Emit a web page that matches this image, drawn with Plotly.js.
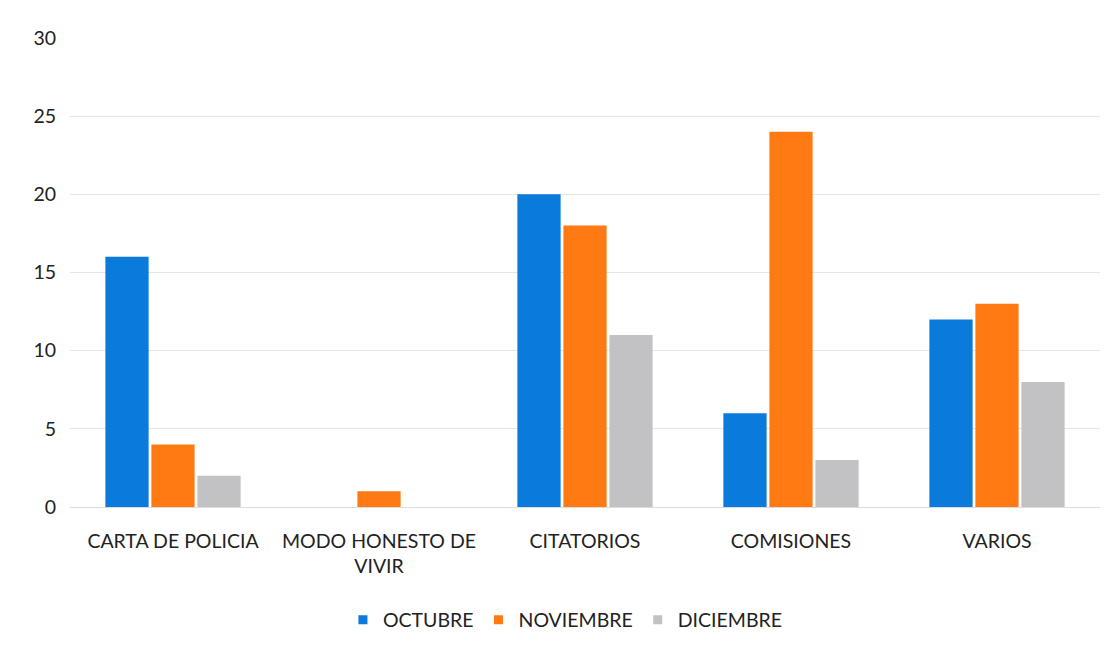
<!DOCTYPE html>
<html><head><meta charset="utf-8">
<script src="https://cdn.plot.ly/plotly-3.0.1.min.js"></script>
<style>html,body{margin:0;padding:0;background:#fff}</style>
</head><body>
<div id="chart" style="width:1118px;height:656px"></div>
<script>
const categories = ["CARTA DE POLICIA", "MODO HONESTO DE<br>VIVIR", "CITATORIOS", "COMISIONES", "VARIOS"];
const octubre = [16, 0, 20, 6, 12];
const noviembre = [4, 1, 18, 24, 13];
const diciembre = [2, 0, 11, 3, 8];
const yTicks = [0, 5, 10, 15, 20, 25, 30];

const font = "Lato, 'Open Sans', sans-serif";
const series = [
  {name: "OCTUBRE", y: octubre, color: "#0A7ADB"},
  {name: "NOVIEMBRE", y: noviembre, color: "#FF7A12"},
  {name: "DICIEMBRE", y: diciembre, color: "#C2C2C4"}
];
const bars = series.map(s => ({type: "bar", x: categories, y: s.y, name: s.name,
  marker: {color: s.color}, showlegend: false}));
const legendItems = series.map(s => ({type: "scatter", mode: "markers", x: [null], y: [null],
  name: s.name, marker: {color: s.color, symbol: "square", size: 9}}));

Plotly.newPlot("chart", bars.concat(legendItems), {
  width: 1118, height: 656,
  margin: {l: 70, r: 18, t: 38, b: 149},
  paper_bgcolor: "#fff", plot_bgcolor: "#fff",
  barmode: "group", bargap: 0.33, bargroupgap: 0.06,
  font: {family: font, size: 19, color: "#222"},
  xaxis: {showgrid: false, zeroline: false, showline: false, ticks: "", ticklabelstandoff: 20,
          tickfont: {size: 19.5}},
  yaxis: {range: [0, 30], tickvals: yTicks, showgrid: true, gridcolor: "#e6e6e6", gridwidth: 1,
          zeroline: true, zerolinecolor: "#dcdcdc", showline: false, ticks: "", ticklabelstandoff: 13,
          tickfont: {size: 19.5}},
  legend: {orientation: "h", x: 0.481, xanchor: "center", y: -0.241, yanchor: "middle",
           font: {size: 19.5}, tracegroupgap: 0},
  showlegend: true
}, {displayModeBar: false, staticPlot: true});
</script>
</body></html>
